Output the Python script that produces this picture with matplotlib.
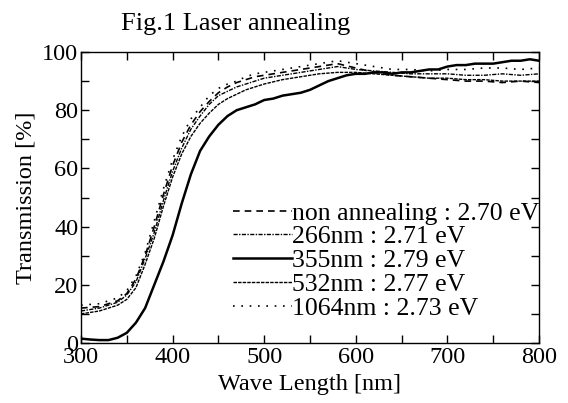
import matplotlib
matplotlib.use("Agg")
import matplotlib.pyplot as plt
from matplotlib.ticker import MultipleLocator

plt.rcParams['font.family'] = ['Liberation Serif', 'DejaVu Serif']

wl_355 = [300,310,320,330,340,350,360,370,380,390,400,410,420,430,440,450,460,470,480,490,500,
          510,520,530,540,550,560,570,580,590,600,610,620,630,640,650,660,670,680,690,700,
          710,720,730,740,750,760,770,780,790,800]
t_355 = [1.5,1.2,1.0,1.0,1.8,3.5,7,12,20,28,37,48,58,66,71,75,78,80,81,82,83.5,
         84,85,85.5,86,87,88.5,90,91,92,92.5,92.5,93,93,92.5,93,93,93.5,94,94,95,
         95.5,95.5,96,96,96,96.5,97,97,97.5,97]

wl_o = [300,320,340,350,360,370,380,390,400,410,420,430,440,450,460,470,480,490,500,
        520,540,560,580,600,620,640,660,680,700,720,740,760,780,800]
t_1064 = [13,13.5,15.5,18,23,31,42,53,63,71,77,81,85,87.5,89,90,91.5,92.5,93,
          94,95,96,97,96,95,94,94,93.5,94,94,94.5,94.5,94,94.5]
t_non = [12,12.5,14.5,17,22,30,40,51,61,69,75,79.5,83,86,88,89.5,90.5,91.5,92,
         93,94,95,96,94.5,93,92,91.5,91,90.5,90,90,89.5,90,89.5]
t_266 = [11,12,14,16.5,21,29,38,49,59,67,73.5,78,82,85,86.5,88,89,90,91,
         92,93,94,95,94,93.5,93,92.5,92.5,92.5,92,92,92.5,92,92.5]
t_532 = [10,11,13,15,19,27,36,47,57,65,71,75.5,79,82,84,85.5,87,88,89,
         90.5,91.5,92.5,93,93,92.5,92,91.5,91,91,90.5,90.5,90,90,90]

labels = ["non annealing : 2.70 eV", "266nm : 2.71 eV", "355nm : 2.79 eV",
          "532nm : 2.77 eV", "1064nm : 2.73 eV"]

FS = 17.5

fig = plt.figure(figsize=(5.68, 4.03), dpi=100)
ax = fig.add_axes([81/568, 1-343/403, (539-81)/568, (343-52)/403])

ax.plot(wl_o, t_non, color='black', lw=1.2, ls=(0, (4, 3)), label=labels[0])
ax.plot(wl_o, t_266, color='black', lw=1.0, ls=(0, (3, 1, 1, 1)), label=labels[1])
ax.plot(wl_355, t_355, color='black', lw=1.8, ls='-', label=labels[2])
ax.plot(wl_o, t_532, color='black', lw=1.0, ls=(0, (2.5, 0.8)), label=labels[3])
ax.plot(wl_o, t_1064, color='black', lw=1.2, ls=(0, (1, 4)), label=labels[4])

ax.set_xlim(300, 800)
ax.set_ylim(0, 100)
ax.xaxis.set_major_locator(MultipleLocator(100))
ax.xaxis.set_minor_locator(MultipleLocator(50))
ax.yaxis.set_major_locator(MultipleLocator(20))
ax.yaxis.set_minor_locator(MultipleLocator(10))
ax.tick_params(which='both', direction='in', top=True, right=True, length=6, width=1,
               labelsize=FS)
ax.tick_params(axis='x', pad=3)
ax.tick_params(axis='y', pad=2)
for s in ax.spines.values():
    s.set_linewidth(1.0)

ax.set_xlabel("Wave Length [nm]", fontsize=FS, labelpad=4)
ax.set_ylabel("Transmission [%]", fontsize=FS, labelpad=4)
fig.text(121/568, 1-24/403, "Fig.1 Laser annealing", fontsize=19, ha='left', va='center')

leg = ax.legend(loc='lower right', bbox_to_anchor=(1.0, 0.08), frameon=False,
                fontsize=18.5, handlelength=2.3, handletextpad=0.0, labelspacing=0.03,
                borderaxespad=0.0, borderpad=0.0)

fig.savefig("out.png", dpi=100)
